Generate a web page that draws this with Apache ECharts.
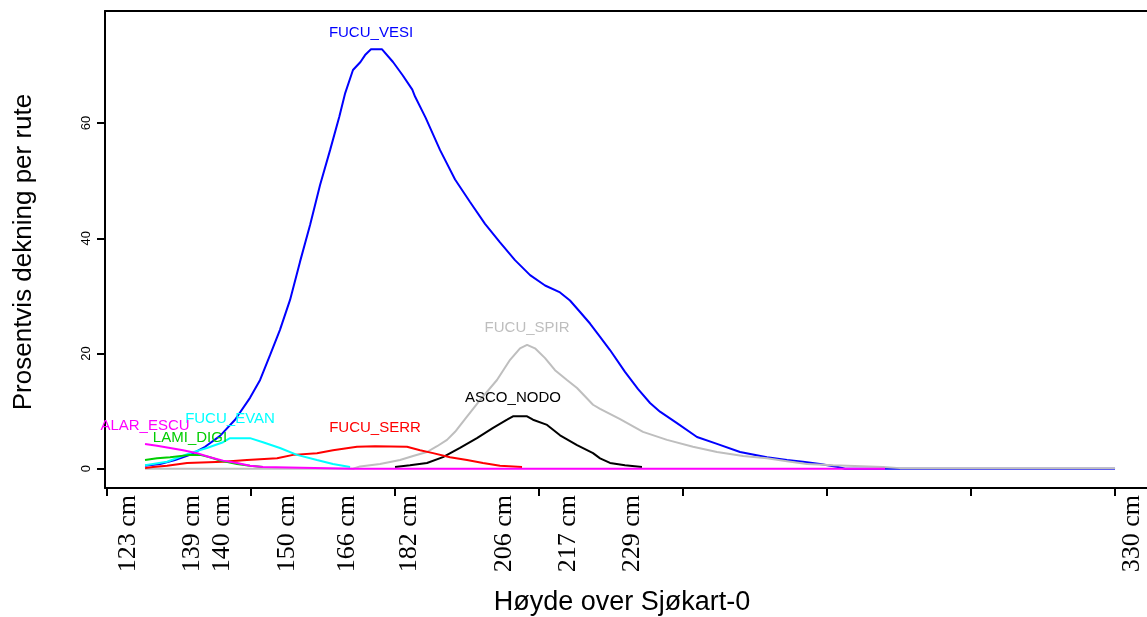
<!DOCTYPE html>
<html>
<head>
<meta charset="utf-8">
<script src="https://cdn.jsdelivr.net/npm/echarts@6/dist/echarts.min.js"></script>
<style>
  html, body { margin: 0; padding: 0; background: #fff; }
  #chart { width: 1147px; height: 617px; }
</style>
</head>
<body>
<div id="chart"></div>
<script>
// Position along the transect (index units) and the height labels shown below the axis
const heightTickPos = [14.6, 59, 80, 125, 167, 210, 276, 320, 365, 712];
const heightTickLabels = ['123 cm', '139 cm', '140 cm', '150 cm', '166 cm', '182 cm', '206 cm', '217 cm', '229 cm', '330 cm'];
const majorTicks = [0, 100, 200, 300, 400, 500, 600, 700];
const coverTicks = [0, 20, 40, 60];

// Percent cover per square, by species
const vesiX = [26.4, 36.8, 47.2, 57.6, 68.1, 78.5, 88.9, 99.3, 106.3, 113.2, 120.1, 127.1, 134.0, 141.0, 147.9, 154.9, 161.3, 165.4, 170.8, 176.0, 179.2, 183.3, 191.0, 198.6, 205.3, 212.0, 213.9, 221.3, 231.3, 241.7, 252.1, 262.5, 272.9, 283.3, 293.8, 304.2, 314.6, 321.5, 328.5, 335.4, 342.4, 349.3, 359.7, 368.8, 377.1, 384.0, 395.8, 409.7, 423.6, 439.6, 458.3, 472.2, 483.3, 495.1, 507.6, 512.5, 700];
const vesiY = [0.5, 0.8, 1.5, 2.4, 3.8, 5.7, 8.5, 12.3, 15.4, 19.7, 24.1, 29.3, 35.9, 42.3, 49.2, 55.3, 61.1, 65.2, 69.2, 70.6, 71.8, 72.8, 72.8, 70.6, 68.3, 65.8, 64.6, 60.9, 55.3, 50.2, 46.3, 42.5, 39.3, 36.2, 33.6, 31.8, 30.6, 29.2, 27.2, 25.2, 22.9, 20.6, 16.8, 13.8, 11.4, 9.9, 7.9, 5.5, 4.3, 2.9, 2.0, 1.5, 1.2, 0.8, 0.3, 0, 0];

const spirX = [26.4, 170.8, 175.7, 189.6, 203.5, 212.5, 222.2, 229.2, 236.1, 241.7, 248.6, 259.0, 270.8, 279.9, 286.8, 291.7, 297.2, 304.2, 311.1, 319.4, 326.4, 337.5, 342.4, 356.3, 372.2, 388.9, 406.9, 423.6, 441.7, 458.3, 472.2, 486.1, 504.2, 538.9, 550.7, 700];
const spirY = [0, 0, 0.4, 0.8, 1.5, 2.2, 2.9, 3.9, 5.0, 6.4, 8.6, 11.9, 15.4, 18.9, 20.9, 21.5, 20.9, 19.2, 17.1, 15.4, 14.0, 11.1, 10.4, 8.6, 6.4, 5.0, 3.8, 2.9, 2.2, 1.8, 1.3, 0.8, 0.6, 0.3, 0.1, 0.1];

const nodoX = [200.0, 210.4, 222.2, 233.3, 245.1, 256.9, 268.1, 277.8, 281.9, 291.7, 295.8, 305.6, 314.6, 326.4, 337.5, 342.4, 349.3, 359.7, 371.5];
const nodoY = [0.3, 0.6, 1.0, 2.0, 3.6, 5.3, 7.1, 8.5, 9.1, 9.1, 8.5, 7.6, 5.8, 4.1, 2.7, 1.8, 1.0, 0.6, 0.3];

const serrX = [26.4, 31.9, 41.7, 55.6, 80.6, 97.2, 118.1, 129.2, 145.8, 156.9, 173.6, 186.1, 208.3, 217.4, 226.4, 238.2, 250.0, 261.1, 272.9, 288.2];
const serrY = [0.1, 0.3, 0.5, 1.0, 1.2, 1.5, 1.8, 2.4, 2.7, 3.2, 3.8, 3.9, 3.8, 3.2, 2.7, 2.0, 1.5, 1.0, 0.5, 0.3];

const evanX = [26.4, 41.7, 57.6, 69.4, 80.6, 85.4, 99.3, 108.3, 120.1, 131.9, 145.8, 156.9, 168.8];
const evanY = [0.6, 1.2, 2.7, 3.6, 4.6, 5.3, 5.3, 4.6, 3.6, 2.4, 1.5, 0.8, 0.3];

const digiX = [26.4, 34.7, 43.8, 57.6, 64.6, 71.5, 78.5, 90.3, 99.3, 108.3];
const digiY = [1.5, 1.8, 2.0, 2.4, 2.4, 2.0, 1.4, 0.8, 0.5, 0.3];

const escuX = [26.4, 34.7, 43.8, 52.8, 62.5, 71.5, 80.6, 90.3, 99.3, 108.3, 170.8, 540.3];
const escuY = [4.3, 4.0, 3.6, 3.2, 2.7, 2.0, 1.4, 1.0, 0.5, 0.3, 0, 0];

const speciesNames = ['FUCU_VESI', 'FUCU_SPIR', 'ASCO_NODO', 'FUCU_SERR', 'FUCU_EVAN', 'LAMI_DIGI', 'ALAR_ESCU'];
const speciesX = [vesiX, spirX, nodoX, serrX, evanX, digiX, escuX];
const speciesY = [vesiY, spirY, nodoY, serrY, evanY, digiY, escuY];

// Drawing styles
const speciesColors = ['#0000FF', '#BEBEBE', '#000000', '#FF0000', '#00FFFF', '#00CD00', '#FF00FF'];
const nameGap = [9, 9, 11, 11, 12, 9, 11];
const SANS = '"Liberation Sans", Arial, Helvetica, sans-serif';
const SERIF = '"Liberation Serif", "Times New Roman", serif';

const series = speciesNames.map(function (name, i) {
  const xs = speciesX[i], ys = speciesY[i];
  return {
    name: name,
    type: 'line',
    data: xs.map(function (x, k) { return [x, ys[k]]; }),
    showSymbol: false,
    symbol: 'none',
    lineStyle: { color: speciesColors[i], width: 2 },
    itemStyle: { color: speciesColors[i] },
    silent: true,
    markPoint: {
      symbol: 'circle',
      symbolSize: 0.1,
      itemStyle: { color: 'rgba(0,0,0,0)' },
      data: [{ type: 'max', valueIndex: 1 }],
      label: {
        show: true,
        position: 'top',
        distance: nameGap[i],
        formatter: name,
        color: speciesColors[i],
        fontSize: 15,
        fontFamily: SANS
      }
    }
  };
});

const chart = echarts.init(document.getElementById('chart'), null, { renderer: 'canvas' });
chart.setOption({
  animation: false,
  backgroundColor: '#ffffff',
  grid: {
    left: 105, top: 11, right: 0, bottom: 129,
    show: false,
    containLabel: false
  },
  xAxis: [
    {
      type: 'value',
      position: 'bottom',
      min: -1.4,
      max: 722.2,
      splitLine: { show: false },
      axisLine: { show: true, onZero: false, lineStyle: { color: '#000', width: 2 } },
      axisTick: { show: true, length: 8, inside: false, customValues: majorTicks, lineStyle: { color: '#000', width: 2 } },
      axisLabel: {
        show: true,
        customValues: heightTickPos,
        rotate: 90,
        margin: 7,
        color: '#000',
        fontSize: 26,
        fontFamily: SERIF,
        formatter: function (v) {
          let best = 0;
          for (let k = 1; k < heightTickPos.length; k++) {
            if (Math.abs(heightTickPos[k] - v) < Math.abs(heightTickPos[best] - v)) best = k;
          }
          return heightTickLabels[best];
        }
      }
    },
    {
      // top edge of the plot frame
      type: 'value',
      position: 'top',
      min: -1.4,
      max: 722.2,
      splitLine: { show: false },
      axisLine: { show: true, onZero: false, lineStyle: { color: '#000', width: 2 } },
      axisTick: { show: false },
      axisLabel: { show: false }
    }
  ],
  yAxis: {
    type: 'value',
    min: -3.35,
    max: 79.45,
    splitLine: { show: false },
    axisLine: { show: true, onZero: false, lineStyle: { color: '#000', width: 2 } },
    axisTick: { show: true, length: 8, customValues: coverTicks, lineStyle: { color: '#000', width: 2 } },
    axisLabel: {
      show: true,
      customValues: coverTicks,
      rotate: 90,
      margin: 12,
      color: '#000',
      fontSize: 13,
      fontFamily: SANS
    }
  },
  graphic: [
    {
      type: 'text',
      x: 622, y: 603,
      style: { text: 'Høyde over Sjøkart-0', fill: '#000', fontSize: 27, fontFamily: SANS, align: 'center', verticalAlign: 'middle' }
    },
    {
      type: 'text',
      x: 24, y: 252,
      rotation: Math.PI / 2,
      style: { text: 'Prosentvis dekning per rute', fill: '#000', fontSize: 26, fontFamily: SANS, align: 'center', verticalAlign: 'middle' }
    }
  ],
  series: series
});
</script>
</body>
</html>
